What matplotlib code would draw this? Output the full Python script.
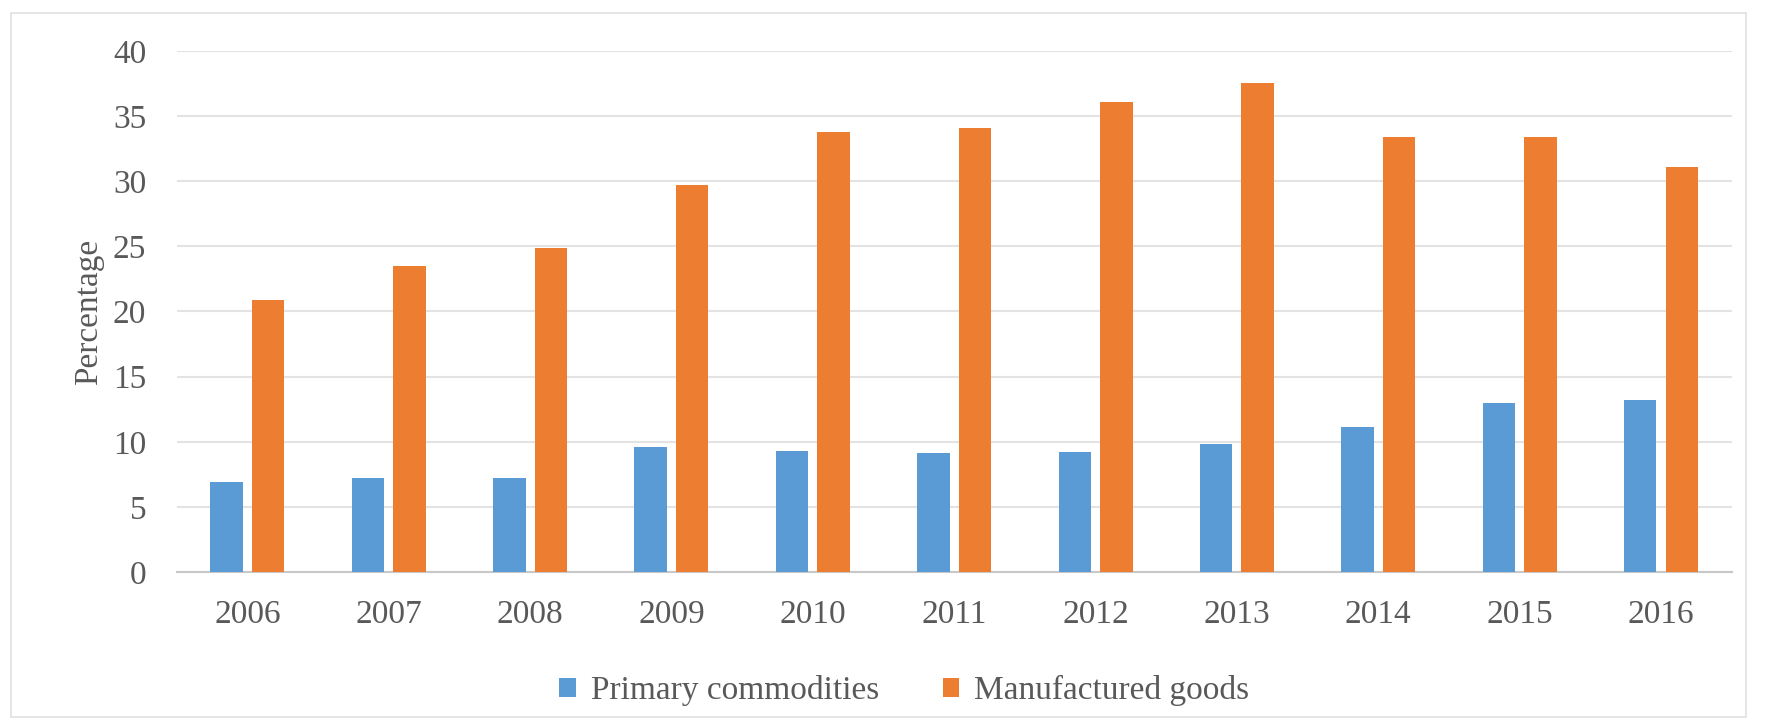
import numpy as np
import matplotlib
matplotlib.use("Agg")
from matplotlib import pyplot as plt
from matplotlib.patches import Rectangle

years = ['2006', '2007', '2008', '2009', '2010', '2011', '2012', '2013', '2014', '2015', '2016']
primary = [6.9, 7.2, 7.2, 9.6, 9.3, 9.1, 9.2, 9.8, 11.1, 13.0, 13.2]
manufactured = [20.9, 23.5, 24.9, 29.7, 33.8, 34.1, 36.1, 37.5, 33.4, 33.4, 31.1]

plt.rcParams['font.family'] = ['Liberation Serif', 'DejaVu Serif']
grey = '#595959'

fig = plt.figure(figsize=(17.67, 7.26), dpi=100)
ax = fig.add_axes([0.1, 0.212, 0.88, 0.718])

x = np.arange(len(years))
w = 0.23
off = 0.147
ax.bar(x - off, primary, w, color='#5b9bd5', label='Primary commodities', zorder=3)
ax.bar(x + off, manufactured, w, color='#ed7d31', label='Manufactured goods', zorder=3)

ax.set_ylim(0, 40)
ax.set_xlim(-0.5, len(years) - 0.5)
ax.set_yticks(range(0, 41, 5))
ax.set_xticks(x)
ax.set_xticklabels(years)
ax.tick_params(axis='both', length=0, labelsize=24, labelcolor=grey)
ax.tick_params(axis='x', pad=20)
ax.tick_params(axis='y', pad=22)
ax.grid(axis='y', color='#e3e3e3', linewidth=1.5, zorder=0)
for s in ['top', 'right', 'left']:
    ax.spines[s].set_visible(False)
ax.spines['bottom'].set_color('#c8c8c8')
ax.spines['bottom'].set_linewidth(1.5)

ax.set_ylabel('Percentage', fontsize=24, color=grey, labelpad=6)

ax.legend(loc='upper center', bbox_to_anchor=(0.468, -0.14), ncol=2, frameon=False,
          fontsize=24, labelcolor=grey, handlelength=0.5, handleheight=0.5,
          columnspacing=1.9, handletextpad=0.45)

# light border around the chart area
fig.patches.append(Rectangle((0.006, 0.012), 0.982, 0.97, transform=fig.transFigure,
                             fill=False, edgecolor='#e0e0e0', linewidth=1.2))

fig.savefig('out.png', dpi=100)
